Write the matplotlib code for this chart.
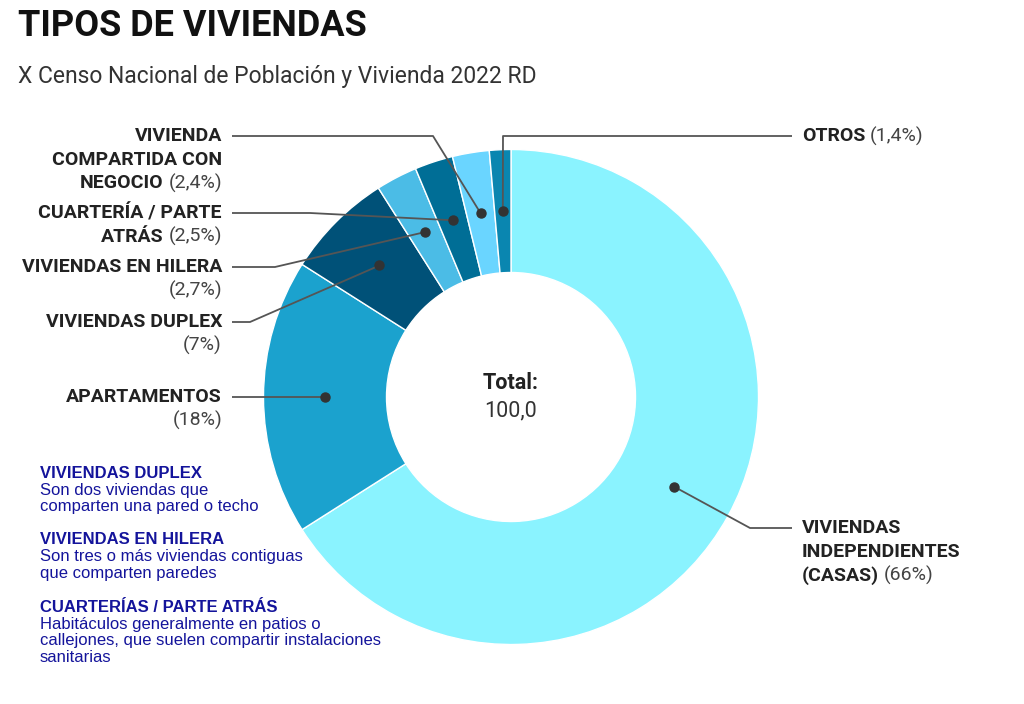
import matplotlib.pyplot as plt
import numpy as np

# Data
categories = ["VIVIENDAS INDEPENDIENTES (CASAS)", "APARTAMENTOS", "VIVIENDAS DUPLEX",
              "VIVIENDAS EN HILERA", "CUARTERÍA / PARTE ATRÁS",
              "VIVIENDA COMPARTIDA CON NEGOCIO", "OTROS"]
values = [66, 18, 7, 2.7, 2.5, 2.4, 1.4]
label_lines = [["VIVIENDAS", "INDEPENDIENTES", "(CASAS)"],
               ["APARTAMENTOS"],
               ["VIVIENDAS DUPLEX"],
               ["VIVIENDAS EN HILERA"],
               ["CUARTERÍA / PARTE", "ATRÁS"],
               ["VIVIENDA", "COMPARTIDA CON", "NEGOCIO"],
               ["OTROS"]]
total_label = "Total:"
total_value = "100,0"
title = "TIPOS DE VIVIENDAS"
subtitle = "X Censo Nacional de Población y Vivienda 2022 RD"
notes = [("VIVIENDAS DUPLEX", ["Son dos viviendas que", "comparten una pared o techo"]),
         ("VIVIENDAS EN HILERA", ["Son tres o más viviendas contiguas", "que comparten paredes"]),
         ("CUARTERÍAS / PARTE ATRÁS", ["Habitáculos generalmente en patios o",
                                      "callejones, que suelen compartir instalaciones",
                                      "sanitarias"])]

colors = ["#8AF3FF", "#1BA2CE", "#005178", "#4BBCE6", "#006E96", "#6AD5FF", "#0A86B0"]

# layout in pixels (y downward)
cx, cy, R, W = 511, 397, 247.5, 123
# (side, text x, first line y, pct inline, elbow points)
layout = [("right", 802, 528, True, [(750, 528), (792, 528)]),
          ("left", 222, 397, False, [(232, 397)]),
          ("left", 222, 322, False, [(250, 322), (232, 322)]),
          ("left", 222, 267, False, [(275, 267), (232, 267)]),
          ("left", 222, 213, True, [(310, 213), (232, 213)]),
          ("left", 222, 136, True, [(433, 136), (232, 136)]),
          ("right", 802, 136, True, [(503, 136), (792, 136)])]
line_h = 23.7

fig = plt.figure(figsize=(10.24, 7.04), dpi=100)
ax = fig.add_axes([0, 0, 1, 1])
ax.pie(values, colors=colors, center=(cx, cy), radius=R, startangle=270, counterclock=True,
       wedgeprops=dict(width=W, edgecolor="white", linewidth=1))
ax.set_xlim(0, 1024)
ax.set_ylim(704, 0)
ax.set_aspect("equal")
ax.axis("off")

font = "Roboto"
lab_size = 14
cum = np.cumsum(values) - np.array(values) / 2
mids = np.deg2rad(270 + 360 * cum / sum(values))
r_mid = R - W / 2

for i, v in enumerate(values):
    side, tx, ty, inline, pts = layout[i]
    dx = cx + r_mid * np.cos(mids[i])
    dy = cy + r_mid * np.sin(mids[i])
    xs = [dx] + [p[0] for p in pts]
    ys = [dy] + [p[1] for p in pts]
    ax.plot(xs, ys, color="#555555", lw=1.3, solid_capstyle="butt")
    ax.plot(dx, dy, "o", color="#333333", ms=6.5)

    pct = "(" + f"{v:g}".replace(".", ",") + "%)"
    lines = label_lines[i]
    ha = "right" if side == "left" else "left"
    for j, line in enumerate(lines):
        y = ty + j * line_h
        last = j == len(lines) - 1
        if last and inline:
            if side == "left":
                p = ax.text(tx, y, pct, ha="right", va="center", fontsize=lab_size,
                            family=font, color="#444444")
                ax.annotate(line, xy=(0, 0.5), xycoords=p, xytext=(-3.5, 0),
                            textcoords="offset points", ha="right", va="center",
                            fontsize=lab_size, family=font, fontweight="bold", color="#222222")
            else:
                b = ax.text(tx, y, line, ha="left", va="center", fontsize=lab_size,
                            family=font, fontweight="bold", color="#222222")
                ax.annotate(pct, xy=(1, 0.5), xycoords=b, xytext=(3.5, 0),
                            textcoords="offset points", ha="left", va="center",
                            fontsize=lab_size, family=font, color="#444444")
        else:
            ax.text(tx, y, line, ha=ha, va="center", fontsize=lab_size, family=font,
                    fontweight="bold", color="#222222")
    if not inline:
        ax.text(tx, ty + len(lines) * line_h, pct, ha=ha, va="center", fontsize=lab_size,
                family=font, color="#444444")

# center text
ax.text(cx, 383, total_label, ha="center", va="center", fontsize=15.5, family=font,
        fontweight="bold", color="#222222")
ax.text(cx, 411, total_value, ha="center", va="center", fontsize=15.5, family=font,
        color="#333333")

# title
ax.text(18, 26, title, ha="left", va="center", fontsize=26, family=font,
        fontweight="bold", color="#111111")
ax.text(18, 77, subtitle, ha="left", va="center", fontsize=16.5, family=font, color="#333333")

# notes
note_color = "#14149B"
y = 473
for head, body in notes:
    ax.text(40, y, head, ha="left", va="center", fontsize=12, family="Liberation Sans",
            fontweight="bold", color=note_color)
    for k, b in enumerate(body):
        ax.text(40, y + 17 + k * 16.5, b, ha="left", va="center", fontsize=12,
                family="Liberation Sans", color=note_color)
    y += 17 + len(body) * 16.5 + 17

fig.savefig("out.png", dpi=100)
